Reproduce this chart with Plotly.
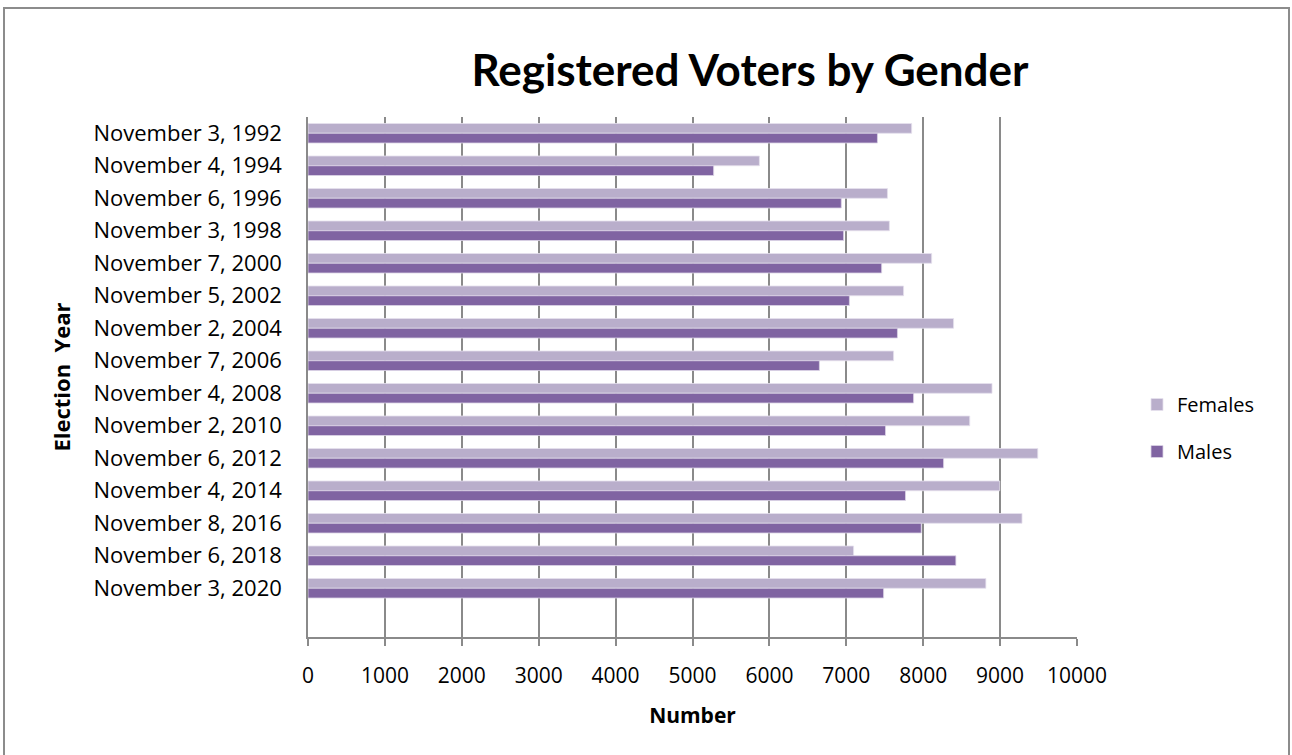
import plotly.graph_objects as go

categories = ["November 3, 1992", "November 4, 1994", "November 6, 1996", "November 3, 1998",
              "November 7, 2000", "November 5, 2002", "November 2, 2004", "November 7, 2006",
              "November 4, 2008", "November 2, 2010", "November 6, 2012", "November 4, 2014",
              "November 8, 2016", "November 6, 2018", "November 3, 2020"]
females = [7850, 5870, 7535, 7560, 8110, 7745, 8395, 7615, 8895, 8605, 9490, 8995, 9285, 7095, 8815]
males = [7405, 5275, 6935, 6965, 7460, 7040, 7665, 6650, 7875, 7510, 8265, 7770, 7975, 8425, 7485]
x_ticks = [0, 1000, 2000, 3000, 4000, 5000, 6000, 7000, 8000, 9000, 10000]

W, H = 1292, 755
L, R, T, B = 308, 1077, 117, 637

fig = go.Figure()
fig.add_trace(go.Bar(y=categories, x=females, name="Females", orientation="h",
                     marker=dict(color="#B9AECB", line=dict(color="#E6E1EE", width=0.8)),
                     legendgroup="f"))
fig.add_trace(go.Bar(y=categories, x=males, name="Males", orientation="h",
                     marker=dict(color="#8064A2", line=dict(color="#DCD4E6", width=0.8)),
                     legendgroup="m"))

def px_x(p):
    return (p - L) / (R - L)

def px_y(p):
    return (B - p) / (B - T)

fig.add_shape(type="rect", xref="paper", yref="paper",
              x0=px_x(4), x1=px_x(1289), y0=px_y(762), y1=px_y(8),
              line=dict(color="#8C8C8C", width=2), fillcolor="rgba(0,0,0,0)", layer="below")

fig.update_layout(
    width=W, height=H,
    margin=dict(l=L, r=W - R, t=T, b=H - B),
    paper_bgcolor="white", plot_bgcolor="white",
    barmode="group", bargap=0.4, bargroupgap=0,
    font=dict(family="Open Sans", color="black"),
    title=dict(text="<b>Registered Voters by Gender</b>", x=750 / W, xanchor="center",
               y=1 - 71 / H, yanchor="middle",
               font=dict(family="Lato", size=44, color="black")),
    legend=dict(x=px_x(1137), xanchor="left", y=px_y(385), yanchor="top",
                font=dict(family="Open Sans", size=20, color="black"),
                tracegroupgap=18, bgcolor="rgba(0,0,0,0)"),
    xaxis=dict(range=[0, 10000], tickvals=x_ticks, ticktext=[str(v) for v in x_ticks],
               showgrid=True, gridcolor="#8A8A8A", gridwidth=1.6,
               showline=True, linecolor="#8A8A8A", linewidth=1.6,
               ticks="outside", ticklen=7, tickcolor="#8A8A8A", tickwidth=1.6,
               ticklabelstandoff=12, zeroline=False,
               tickfont=dict(family="Open Sans", size=21, color="black"),
               title=dict(text="<b>Number</b>", standoff=20,
                          font=dict(family="Open Sans", size=21, color="black"))),
    yaxis=dict(type="category", range=[15.5, -0.5],
               showline=True, linecolor="#8A8A8A", linewidth=1.6,
               showgrid=False, ticks="", ticklabelstandoff=20,
               tickfont=dict(family="Open Sans", size=22, color="black"),
               title=dict(text="<b>Election\u00a0\u00a0Year</b>", standoff=17,
                          font=dict(family="Open Sans", size=22, color="black"))),
)

fig.write_html("out.html", config={"displayModeBar": False},
               post_script="document.body.style.margin='0';")
